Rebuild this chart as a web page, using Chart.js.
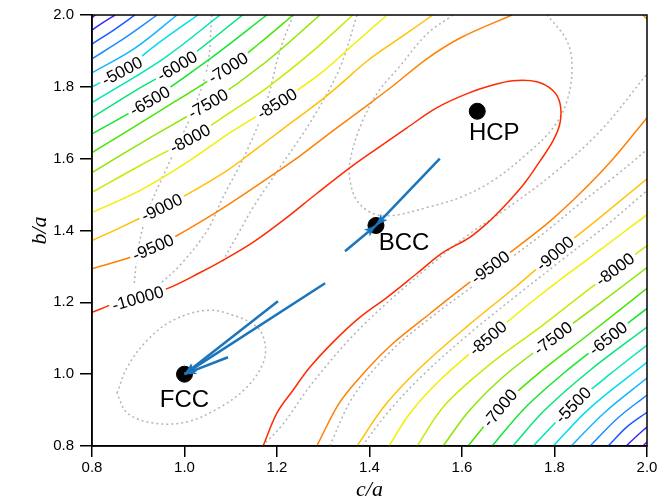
<!DOCTYPE html>
<html>
<head>
<meta charset="utf-8">
<script src="https://cdn.jsdelivr.net/npm/chart.js@4.4.1/dist/chart.umd.min.js"></script>
<style>
  html, body { margin: 0; padding: 0; background: #fff; }
</style>
</head>
<body>
<canvas id="contour" width="668" height="501"></canvas>
<script>
// ---- contour levels (same order in upperLines / lowerLines) ----
const levels = [-2500, -3000, -3500, -4000, -4500, -5000, -5500, -6000, -6500, -7000, -7500, -8000, -8500, -9000, -9500];

// branches in the upper-left corner, [c/a, b/a]
const upperLines = [
  [[0.8, 1.992], [0.807, 2.0]],
  [[0.8, 1.958], [0.826, 1.981], [0.85, 2.0]],
  [[0.8, 1.919], [0.85, 1.961], [0.893, 2.0]],
  [[0.8, 1.878], [0.871, 1.936], [0.941, 2.0]],
  [[0.8, 1.839], [0.893, 1.908], [0.984, 2.0]],
  [[0.8, 1.8], [0.865, 1.844], [0.947, 1.925], [1.029, 2.0]],
  [[0.8, 1.756], [0.954, 1.878], [1.077, 2.0]],
  [[0.8, 1.714], [0.893, 1.789], [0.984, 1.858], [1.126, 2.0]],
  [[0.8, 1.669], [0.925, 1.761], [1.055, 1.878], [1.178, 2.0]],
  [[0.8, 1.617], [0.947, 1.733], [1.094, 1.853], [1.163, 1.922], [1.235, 2.0]],
  [[0.8, 1.561], [0.925, 1.658], [1.051, 1.753], [1.174, 1.867], [1.293, 2.0]],
  [[0.8, 1.506], [0.904, 1.581], [1.012, 1.656], [1.098, 1.728], [1.178, 1.797], [1.278, 1.9], [1.364, 2.0]],
  [[0.8, 1.45], [0.899, 1.508], [1.001, 1.586], [1.098, 1.672], [1.2, 1.753], [1.293, 1.836], [1.369, 1.922], [1.438, 2.0]],
  [[0.8, 1.372], [0.861, 1.408], [0.951, 1.464], [1.001, 1.497], [1.092, 1.567], [1.142, 1.614], [1.213, 1.683], [1.286, 1.753], [1.336, 1.806], [1.395, 1.872], [1.466, 1.936], [1.537, 2.0]],
  [[0.8, 1.294], [0.882, 1.325], [0.932, 1.353], [0.984, 1.386], [1.04, 1.428], [1.098, 1.475], [1.178, 1.544], [1.25, 1.608], [1.315, 1.672], [1.379, 1.733], [1.451, 1.803], [1.524, 1.878], [1.596, 1.936], [1.708, 2.0]]
];

// branches in the lower-right corner
const lowerLines = [
  [[1.991, 0.8], [2.0, 0.811]],
  [[1.955, 0.8], [1.978, 0.828], [2.0, 0.853]],
  [[1.916, 0.8], [1.959, 0.856], [2.0, 0.894]],
  [[1.877, 0.8], [1.937, 0.878], [2.0, 0.942]],
  [[1.836, 0.8], [1.909, 0.894], [2.0, 0.989]],
  [[1.797, 0.8], [1.877, 0.906], [2.0, 1.033]],
  [[1.754, 0.8], [1.84, 0.914], [1.92, 1.0], [2.0, 1.081]],
  [[1.71, 0.8], [1.779, 0.9], [1.877, 1.011], [2.0, 1.131]],
  [[1.665, 0.8], [1.736, 0.906], [1.823, 1.006], [1.916, 1.1], [2.0, 1.183]],
  [[1.613, 0.8], [1.682, 0.906], [1.769, 1.006], [1.877, 1.114], [2.0, 1.239]],
  [[1.559, 0.8], [1.617, 0.9], [1.693, 0.997], [1.797, 1.1], [1.898, 1.197], [2.0, 1.297]],
  [[1.503, 0.8], [1.563, 0.914], [1.661, 1.028], [1.769, 1.131], [1.877, 1.239], [2.0, 1.358]],
  [[1.442, 0.8], [1.488, 0.892], [1.552, 0.983], [1.656, 1.1], [1.768, 1.219], [1.883, 1.331], [2.0, 1.444]],
  [[1.373, 0.8], [1.434, 0.914], [1.509, 1.017], [1.611, 1.133], [1.715, 1.242], [1.801, 1.336], [1.898, 1.436], [2.0, 1.544]],
  [[1.286, 0.8], [1.336, 0.922], [1.395, 1.014], [1.451, 1.086], [1.531, 1.169], [1.617, 1.256], [1.704, 1.339], [1.784, 1.419], [1.855, 1.503], [1.927, 1.6], [2.0, 1.714]]
];

// -9500 piece in the top right corner
const cornerLine = [[1.991, 2.0], [2.0, 1.989]];

// -10000 valley contour
const valleyLine = [
  [0.8, 1.172], [0.85, 1.197], [0.904, 1.217], [0.964, 1.239], [1.034, 1.283], [1.083, 1.317], [1.148, 1.367],
  [1.213, 1.428], [1.286, 1.503], [1.358, 1.575], [1.416, 1.628], [1.481, 1.686], [1.546, 1.742], [1.611, 1.781],
  [1.661, 1.803], [1.71, 1.817], [1.762, 1.814], [1.797, 1.789], [1.812, 1.753], [1.812, 1.7], [1.797, 1.65],
  [1.769, 1.594], [1.736, 1.533], [1.697, 1.475], [1.661, 1.428], [1.617, 1.381], [1.559, 1.339], [1.503, 1.281],
  [1.438, 1.214], [1.379, 1.158], [1.325, 1.094], [1.271, 1.019], [1.235, 0.956], [1.2, 0.892], [1.17, 0.8]
];

// grey dotted contours
const dottedLines = [
  [[0.854, 0.947], [0.876, 1.019], [0.919, 1.094], [0.975, 1.15], [1.049, 1.178], [1.105, 1.164], [1.157, 1.131],
   [1.174, 1.086], [1.17, 1.031], [1.135, 0.964], [1.077, 0.908], [1.005, 0.867], [0.932, 0.864], [0.876, 0.892], [0.854, 0.947]],
  [[1.581, 2.0], [1.524, 1.947], [1.466, 1.858], [1.416, 1.781], [1.379, 1.686], [1.358, 1.594], [1.358, 1.539],
   [1.373, 1.483], [1.408, 1.447], [1.451, 1.442], [1.524, 1.464], [1.596, 1.492], [1.667, 1.539], [1.741, 1.614],
   [1.797, 1.686], [1.827, 1.761], [1.838, 1.853], [1.827, 1.928], [1.784, 2.0]],
  [[1.059, 2.0], [1.049, 1.853], [1.012, 1.714], [0.962, 1.575], [0.919, 1.447], [0.899, 1.344], [0.891, 1.247]],
  [[1.235, 2.0], [1.206, 1.9], [1.178, 1.761], [1.135, 1.622], [1.083, 1.492], [1.049, 1.4], [0.99, 1.303], [0.936, 1.239]],
  [[1.373, 2.0], [1.336, 1.853], [1.278, 1.714], [1.206, 1.575], [1.148, 1.464], [1.12, 1.4], [1.081, 1.311]],
  [[1.168, 0.8], [1.211, 0.858], [1.278, 0.978], [1.38, 1.128], [1.531, 1.303], [1.62, 1.394], [1.7, 1.464], [1.8, 1.561], [1.902, 1.681], [2.0, 1.836]],
  [[1.314, 0.8], [1.364, 0.936], [1.444, 1.061], [1.531, 1.156], [1.617, 1.239], [1.704, 1.322], [1.784, 1.4], [1.855, 1.475], [1.927, 1.547], [2.0, 1.625]],
  [[1.384, 0.8], [1.444, 0.9], [1.52, 1.003], [1.617, 1.114], [1.721, 1.222], [1.812, 1.314], [1.909, 1.411], [2.0, 1.511]]
];

// inline contour labels: value and where it sits
const labelValues = [-5000, -6000, -7000, -6500, -7500, -8500, -8000, -9000, -9500, -10000, -9500, -9000, -8000, -8500, -7500, -6500, -7000, -5500];
const labelX = [0.865, 0.984, 1.094, 0.925, 1.051, 1.2, 1.012, 0.951, 0.932, 0.899, 1.661, 1.801, 1.931, 1.656, 1.797, 1.916, 1.682, 1.84];
const labelY = [1.844, 1.858, 1.853, 1.761, 1.753, 1.753, 1.656, 1.464, 1.353, 1.211, 1.298, 1.336, 1.292, 1.1, 1.1, 1.1, 0.906, 0.914];

// crystal structures
const phaseNames = ['FCC', 'BCC', 'HCP'];
const phaseX = [1.0, 1.414, 1.633];
const phaseY = [1.0, 1.414, 1.732];

// arrows: tail -> head
const arrowTails = [[1.552, 1.6], [1.347, 1.342], [1.202, 1.203], [1.304, 1.253], [1.094, 1.047]];
const arrowHeads = [[1.414, 1.414], [1.414, 1.414], [1.0, 1.0], [1.0, 1.0], [1.0, 1.0]];

const xTicks = [0.8, 1.0, 1.2, 1.4, 1.6, 1.8, 2.0];
const yTicks = [0.8, 1.0, 1.2, 1.4, 1.6, 1.8, 2.0];

// ---- styles ----
const levelColors = {
  '-2500': '#7f00ff', '-3000': '#3c28ff', '-3500': '#1a5cff', '-4000': '#1e8cff', '-4500': '#14b4ff',
  '-5000': '#00dcf0', '-5500': '#00e6b4', '-6000': '#00e678', '-6500': '#14e632', '-7000': '#46e600',
  '-7500': '#8ce600', '-8000': '#c8eb00', '-8500': '#f0f000', '-9000': '#ffc000', '-9500': '#ff8000',
  '-10000': '#ff2a00'
};
const FONT = 'Arial, "Liberation Sans", sans-serif';
const ARROW = '#1a75bc';

const toPts = arr => arr.map(p => ({ x: p[0], y: p[1] }));

function contourSet(arr, level) {
  return {
    data: toPts(arr), level: level, showLine: true, pointRadius: 0, pointHoverRadius: 0,
    borderColor: levelColors[level], borderWidth: 1.5, tension: 0.35, order: 3
  };
}

const datasets = [];
levels.forEach((lv, i) => {
  datasets.push(contourSet(upperLines[i], lv));
  datasets.push(contourSet(lowerLines[i], lv));
});
datasets.push(contourSet(cornerLine, -9500));
datasets.push(contourSet(valleyLine, -10000));
dottedLines.forEach(d => datasets.push({
  data: toPts(d), showLine: true, pointRadius: 0, borderColor: '#b4b4b4', borderWidth: 1.5,
  borderDash: [2, 3], tension: 0.35, order: 4
}));
arrowTails.forEach((t, i) => datasets.push({
  data: toPts([t, arrowHeads[i]]), showLine: true, pointRadius: 0, borderColor: ARROW,
  borderWidth: 2.5, order: 1
}));
datasets.push({
  data: phaseX.map((v, i) => ({ x: v, y: phaseY[i] })), showLine: false, pointRadius: 8,
  backgroundColor: '#000', borderColor: '#000', order: 2
});

// labels on contours, arrow heads, phase names, plot frame
const overlay = {
  id: 'overlay',
  afterDatasetsDraw(chart) {
    const { ctx, chartArea: a, scales: { x, y } } = chart;
    ctx.save();
    ctx.beginPath();
    ctx.rect(a.left, a.top, a.right - a.left, a.bottom - a.top);
    ctx.clip();

    ctx.font = '17px ' + FONT;
    ctx.textAlign = 'center';
    ctx.textBaseline = 'middle';
    labelValues.forEach((v, i) => {
      const px = x.getPixelForValue(labelX[i]), py = y.getPixelForValue(labelY[i]);
      let best = Infinity, ang = 0;
      chart.data.datasets.forEach(ds => {
        if (ds.level !== v) return;
        const p = ds.data.map(q => [x.getPixelForValue(q.x), y.getPixelForValue(q.y)]);
        for (let k = 0; k < p.length - 1; k++) {
          const dx = p[k + 1][0] - p[k][0], dy = p[k + 1][1] - p[k][1];
          let t = ((px - p[k][0]) * dx + (py - p[k][1]) * dy) / (dx * dx + dy * dy);
          t = Math.max(0, Math.min(1, t));
          const d = Math.hypot(p[k][0] + t * dx - px, p[k][1] + t * dy - py);
          if (d < best) { best = d; ang = Math.atan2(dy, dx); }
        }
      });
      if (ang > Math.PI / 2) ang -= Math.PI;
      if (ang < -Math.PI / 2) ang += Math.PI;
      const txt = String(v);
      const w = ctx.measureText(txt).width;
      ctx.save();
      ctx.translate(px, py);
      ctx.rotate(ang);
      ctx.fillStyle = '#fff';
      ctx.fillRect(-w / 2 - 3, -8, w + 6, 16);
      ctx.fillStyle = '#000';
      ctx.fillText(txt, 0, 1);
      ctx.restore();
    });

    // arrow heads
    ctx.fillStyle = ARROW;
    arrowTails.forEach((t, i) => {
      const x0 = x.getPixelForValue(t[0]), y0 = y.getPixelForValue(t[1]);
      const x1 = x.getPixelForValue(arrowHeads[i][0]), y1 = y.getPixelForValue(arrowHeads[i][1]);
      const ang = Math.atan2(y1 - y0, x1 - x0);
      ctx.save();
      ctx.translate(x1, y1);
      ctx.rotate(ang);
      ctx.beginPath();
      ctx.moveTo(0, 0);
      ctx.lineTo(-12, -4.5);
      ctx.lineTo(-9, 0);
      ctx.lineTo(-12, 4.5);
      ctx.closePath();
      ctx.fill();
      ctx.restore();
    });

    // phase names
    const offs = [[0, 26], [28, 18], [17, 22]];
    ctx.font = '24px ' + FONT;
    ctx.fillStyle = '#000';
    phaseNames.forEach((n, i) => {
      ctx.fillText(n, x.getPixelForValue(phaseX[i]) + offs[i][0], y.getPixelForValue(phaseY[i]) + offs[i][1]);
    });
    ctx.restore();

    // frame
    ctx.save();
    ctx.strokeStyle = '#000';
    ctx.lineWidth = 1.5;
    ctx.strokeRect(a.left, a.top, a.right - a.left, a.bottom - a.top);
    ctx.restore();
  }
};

new Chart(document.getElementById('contour'), {
  type: 'scatter',
  data: { datasets: datasets },
  options: {
    responsive: false,
    animation: false,
    devicePixelRatio: 1,
    layout: { padding: { top: 14, right: 21, left: 0, bottom: 0 } },
    plugins: { legend: { display: false }, tooltip: { enabled: false } },
    scales: {
      x: {
        type: 'linear', min: 0.8, max: 2.0,
        afterFit: s => { s.height = 55; },
        afterBuildTicks: s => { s.ticks = xTicks.map(v => ({ value: v })); },
        ticks: { color: '#000', font: { size: 15, family: FONT }, padding: 2, maxRotation: 0, callback: v => v.toFixed(1) },
        grid: { drawOnChartArea: false, tickLength: 11, color: '#000', lineWidth: 1.5 },
        border: { color: '#000', width: 1.5 },
        title: { display: true, text: 'c/a', color: '#000', font: { size: 22, style: 'italic', family: '"Liberation Serif", "Times New Roman", serif', lineHeight: 1 }, padding: 0 }
      },
      y: {
        type: 'linear', min: 0.8, max: 2.0,
        afterFit: s => { s.width = 92; },
        afterBuildTicks: s => { s.ticks = yTicks.map(v => ({ value: v })); },
        ticks: { color: '#000', font: { size: 15, family: FONT }, padding: 6, callback: v => v.toFixed(1) },
        grid: { drawOnChartArea: false, tickLength: 12, color: '#000', lineWidth: 1.5 },
        border: { color: '#000', width: 1.5 },
        title: { display: true, text: 'b/a', color: '#000', font: { size: 22, style: 'italic', family: '"Liberation Serif", "Times New Roman", serif', lineHeight: 1.2 }, padding: { top: 27, bottom: 0 } }
      }
    }
  },
  plugins: [overlay]
});
</script>
</body>
</html>
